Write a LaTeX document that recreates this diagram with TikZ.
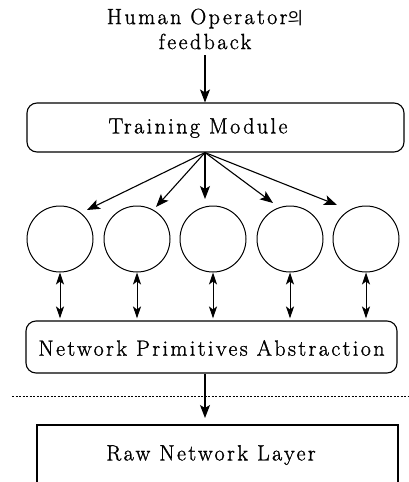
\documentclass[tikz,border=0pt]{standalone}
\usepackage{fontspec}
\setmainfont{Latin Modern Roman}[LetterSpace=11, FakeBold=1.2]
\newfontfamily\kr{Noto Sans CJK KR}
\usetikzlibrary{arrows.meta,calc}

\tikzset{
  line/.style={line width=1.1pt, draw=black},
  arr/.style={line, -{Stealth[length=13pt,width=10pt,inset=3pt]}},
  darr/.style={line width=1pt, {Stealth[length=12pt,width=8pt,inset=3pt]}-{Stealth[length=12pt,width=8pt,inset=3pt]}},
  rbox/.style={line, rounded corners=10pt, inner sep=0pt},
  unit/.style={line width=1pt, draw=black, circle, minimum size=66pt, inner sep=0pt},
  lbl/.style={inner sep=0pt, font=\fontsize{22}{25}\selectfont}
}

\begin{document}
\begin{tikzpicture}[x=1pt, y=1pt]
  \useasboundingbox (0,0) rectangle (409,-482);

  % operator input
  \node[lbl, align=center] (hum) at (205,-29) {Human Operator{\kr\fontsize{17}{25}\selectfont 의}\\feedback};

  % training module
  \node[rbox, minimum width=377pt, minimum height=49pt] (tm) at (215.5,-127.5) {};
  \node[lbl] (tmtext) at (198,-128) {Training Module};
  \draw[arr] (205,-55) -- (tm.north -| hum.south);

  % learning units
  \node[unit] (c1) at (60,-239) {};
  \node[unit] (c2) at (137,-239) {};
  \node[unit] (c3) at (213,-239) {};
  \node[unit] (c4) at (290,-239) {};
  \node[unit] (c5) at (366,-239) {};

  \coordinate (hub) at (tm.south -| hum.south);
  \coordinate (t1) at (87,-210);
  \coordinate (t2) at (156,-207);
  \coordinate (t3) at (205,-199);
  \coordinate (t4) at (273,-203);
  \coordinate (t5) at (337,-205);
  \foreach \t in {t1,t2,t3,t4,t5}
    \draw[arr] (hub) -- (\t);

  % primitives abstraction
  \node[rbox, minimum width=371pt, minimum height=52pt] (npa) at (211.5,-347) {};
  \node[lbl] (npatext) at (211.5,-348) {Network Primitives Abstraction};

  \foreach \c in {c1,c2,c3,c4,c5}
    \draw[darr, shorten >=2pt] (\c.south) -- (\c.south |- npa.north);

  % layer boundary
  \coordinate (dl) at (12,-396);
  \coordinate (dr) at (409,-396);
  \draw[line width=0.8pt, dash pattern=on 2pt off 1.5pt] (dl) -- (dr);

  % raw network layer (open at the bottom)
  \coordinate (rbl) at (37,-482);
  \coordinate (rtl) at (37,-425);
  \coordinate (rtr) at (398,-425);
  \coordinate (rbr) at (398,-482);
  \draw[line] (rbl) -- (rtl) -- (rtr) -- (rbr);
  \node[lbl] (rawtext) at (211,-455) {Raw Network Layer};
  \draw[arr, shorten >=7pt] (npa.south -| hum.south) -- (rtl -| hum.south);
\end{tikzpicture}
\end{document}
